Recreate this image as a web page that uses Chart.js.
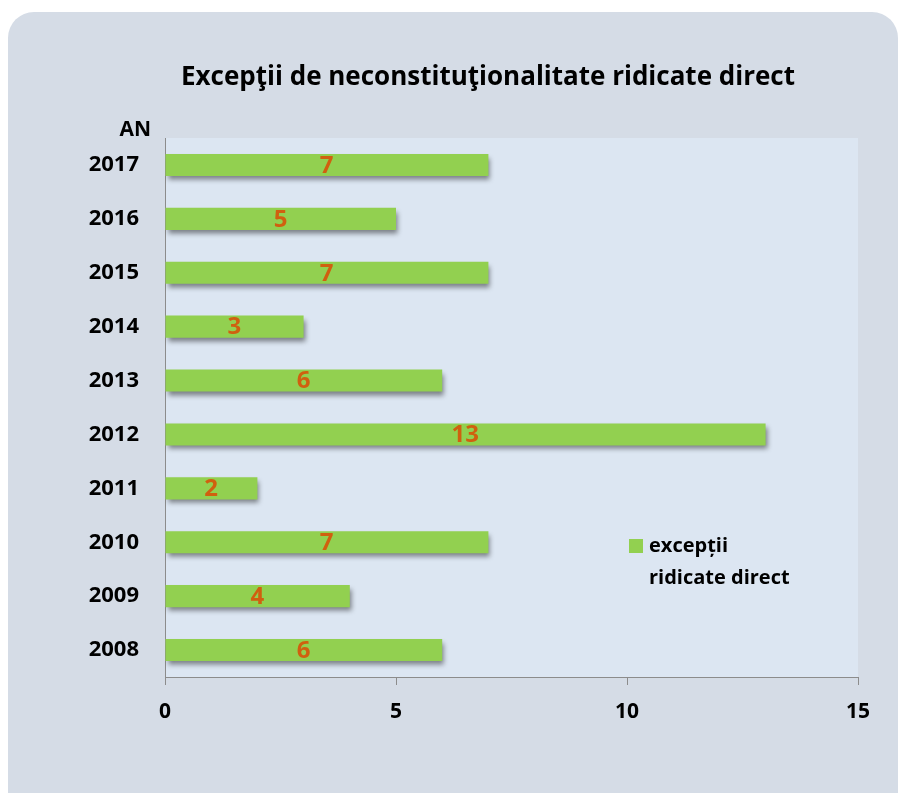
<!DOCTYPE html>
<html>
<head>
<meta charset="utf-8">
<script src="https://cdn.jsdelivr.net/npm/chart.js@4/dist/chart.umd.min.js"></script>
<style>
  html, body { margin: 0; padding: 0; background: #ffffff; }
  canvas { display: block; }
</style>
</head>
<body>
<canvas id="exceptiiChart" width="901" height="793"></canvas>
<script>
const years = ['2008', '2009', '2010', '2011', '2012', '2013', '2014', '2015', '2016', '2017'];
const exceptii = [6, 4, 7, 2, 13, 6, 3, 7, 5, 7];
const xTicks = [0, 5, 10, 15];
const seriesName = ['excepții', 'ridicate direct'];
const chartTitle = 'Excepţii de neconstituţionalitate ridicate direct';
const axisName = 'AN';

const FONT = '"Open Sans", "DejaVu Sans", sans-serif';
const GREEN = '#92d050';
const LABEL_ORANGE = '#d0600f';

// panel, plot background, title, axis name
const backdrop = {
    id: 'backdrop',
    beforeDraw(chart) {
        const c = chart.ctx;
        const a = chart.chartArea;
        c.save();
        c.fillStyle = '#ffffff';
        c.fillRect(0, 0, chart.width, chart.height);
        c.fillStyle = '#d5dce6';
        c.beginPath();
        c.roundRect(8, 12, 890, 820, 26);
        c.fill();
        c.fillStyle = '#dce6f2';
        c.fillRect(a.left, a.top, a.right - a.left, a.bottom - a.top);

        c.fillStyle = '#000000';
        c.font = 'bold 26px ' + FONT;
        c.textAlign = 'center';
        c.textBaseline = 'middle';
        c.fillText(chartTitle, 488, 78);

        c.font = 'bold 21px ' + FONT;
        c.textAlign = 'right';
        c.fillText(axisName, 151, 130);
        c.restore();
    }
};

// soft shadow under the bars
const barShadow = {
    id: 'barShadow',
    beforeDatasetsDraw(chart) {
        const c = chart.ctx;
        c.save();
        c.shadowColor = 'rgba(0, 0, 0, 0.45)';
        c.shadowBlur = 5;
        c.shadowOffsetX = 2;
        c.shadowOffsetY = 4;
    },
    afterDatasetsDraw(chart) {
        chart.ctx.restore();
    }
};

// value labels and the legend inside the plot
const overlay = {
    id: 'overlay',
    afterDatasetsDraw(chart) {
        const c = chart.ctx;
        const meta = chart.getDatasetMeta(0);
        const xScale = chart.scales.x;
        c.save();
        c.font = 'bold 24px ' + FONT;
        c.fillStyle = LABEL_ORANGE;
        c.textAlign = 'center';
        c.textBaseline = 'middle';
        meta.data.forEach((bar, i) => {
            const v = exceptii[i];
            const x = xScale.getPixelForValue(v / 2);
            c.fillText(String(v), x, bar.y + 1);
        });

        c.fillStyle = GREEN;
        c.fillRect(629, 539, 14, 14);
        c.fillStyle = '#000000';
        c.font = 'bold 20px ' + FONT;
        c.textAlign = 'left';
        c.fillText(seriesName[0], 649, 546);
        c.fillText(seriesName[1], 649, 578);
        c.restore();
    }
};

const ctx = document.getElementById('exceptiiChart').getContext('2d');

new Chart(ctx, {
    type: 'bar',
    data: {
        labels: years,
        datasets: [{
            label: seriesName.join(' '),
            data: exceptii,
            backgroundColor: GREEN,
            borderWidth: 0,
            barPercentage: 0.41,
            categoryPercentage: 1
        }]
    },
    options: {
        indexAxis: 'y',
        responsive: false,
        animation: false,
        layout: {
            padding: { top: 138, right: 43, left: 0, bottom: 0 }
        },
        plugins: {
            legend: { display: false },
            tooltip: { enabled: false },
            title: { display: false }
        },
        scales: {
            x: {
                min: 0,
                max: 15,
                afterBuildTicks(scale) {
                    scale.ticks = xTicks.map(v => ({ value: v }));
                },
                afterFit(scale) {
                    scale.height = 116;
                },
                grid: {
                    drawOnChartArea: false,
                    drawTicks: true,
                    tickLength: 8,
                    color: '#8c8c8c'
                },
                border: { color: '#8c8c8c', width: 1 },
                ticks: {
                    color: '#000000',
                    padding: 14,
                    font: { family: FONT, size: 21, weight: 'bold' }
                }
            },
            y: {
                reverse: true,
                afterFit(scale) {
                    scale.width = 165;
                },
                grid: {
                    drawOnChartArea: false,
                    drawTicks: false
                },
                border: { color: '#8c8c8c', width: 1 },
                ticks: {
                    color: '#000000',
                    padding: 26,
                    font: { family: FONT, size: 22, weight: 'bold' }
                }
            }
        }
    },
    plugins: [backdrop, barShadow, overlay]
});
</script>
</body>
</html>
